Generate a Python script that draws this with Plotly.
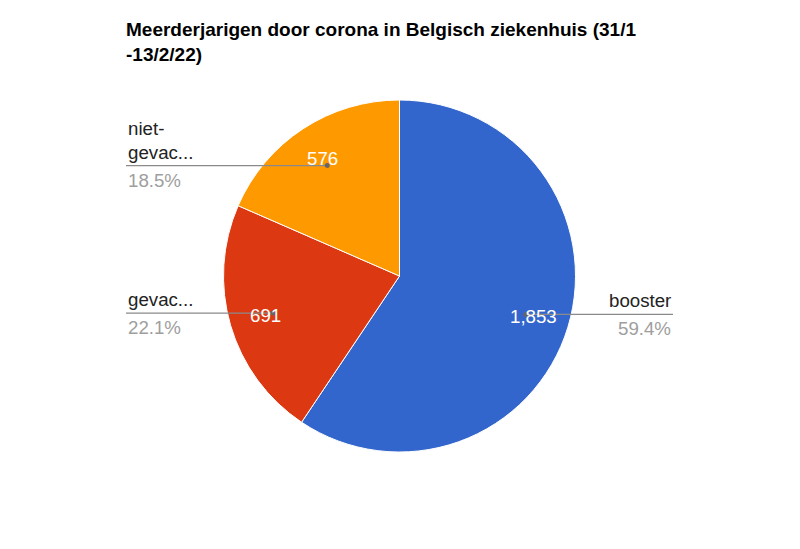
import plotly.graph_objects as go
import numpy as np

# Meerderjarigen in het ziekenhuis per vaccinatiestatus (31/1 - 13/2/22)
labels = ["booster", "gevac…", "niet-gevac…"]
label_text = ["booster", "gevac...", "niet-<br>gevac..."]
values = [1853, 691, 576]
colors = ["#3366cc", "#dc3912", "#ff9900"]

# de pagina heeft 8px marge, dus de figuur is iets kleiner dan het venster
OFF = 8
W, H = 800 - OFF, 549 - OFF
cx, cy, R = 399.5, 276, 176   # middelpunt en straal van de taart (paginapixels)
left_x, right_x = 126, 673    # waar de labels staan


def px(x):
    return (x - OFF) / W


def py(y):
    return (H - (y - OFF)) / H


fig = go.Figure(
    go.Pie(
        labels=labels,
        values=values,
        sort=False,
        direction="clockwise",
        rotation=0,
        marker=dict(colors=colors, line=dict(color="white", width=1)),
        textinfo="none",
        hoverinfo="label+value+percent",
        domain=dict(x=[px(cx - R), px(cx + R)], y=[py(cy + R), py(cy - R)]),
    )
)

# hulplijnen + labels, berekend uit de hoeken van de stukken
vals = np.array(values, dtype=float)
frac = vals / vals.sum()
mid = (np.cumsum(frac) - frac / 2) * 2 * np.pi

shapes = []
annotations = []
for i, a in enumerate(mid):
    dx, dy = np.sin(a), -np.cos(a)
    dot_x, dot_y = cx + 0.75 * R * dx, cy + 0.75 * R * dy
    txt_x, txt_y = cx + 0.795 * R * dx, cy + 0.795 * R * dy
    right = dx > 0
    end_x = right_x if right else left_x
    anchor = "right" if right else "left"

    shapes.append(dict(type="line", xref="paper", yref="paper",
                       x0=px(dot_x), y0=py(dot_y), x1=px(end_x), y1=py(dot_y),
                       line=dict(color="#8a8a8a", width=1.2), layer="above"))
    shapes.append(dict(type="circle", xref="paper", yref="paper",
                       x0=px(dot_x - 2.5), y0=py(dot_y - 2.5), x1=px(dot_x + 2.5), y1=py(dot_y + 2.5),
                       fillcolor="#666666", line=dict(width=0), layer="above"))

    annotations.append(dict(xref="paper", yref="paper", x=px(end_x), y=py(dot_y),
                            xanchor=anchor, yanchor="bottom", yshift=1, align=anchor,
                            text=label_text[i], showarrow=False,
                            font=dict(size=18.7, color="#222222")))
    annotations.append(dict(xref="paper", yref="paper", x=px(end_x), y=py(dot_y),
                            xanchor=anchor, yanchor="top", yshift=-2, align=anchor,
                            text=f"{frac[i] * 100:.1f}%", showarrow=False,
                            font=dict(size=18.7, color="#9e9e9e")))
    annotations.append(dict(xref="paper", yref="paper", x=px(txt_x), y=py(txt_y),
                            xanchor="center", yanchor="middle",
                            text=f"{int(values[i]):,}", showarrow=False,
                            font=dict(size=18.7, color="white")))

fig.update_layout(
    width=W,
    height=H,
    margin=dict(l=0, r=0, t=0, b=0),
    paper_bgcolor="white",
    plot_bgcolor="white",
    showlegend=False,
    font=dict(family="Liberation Sans, Arial, sans-serif"),
    title=dict(
        text="<b>Meerderjarigen door corona in Belgisch ziekenhuis (31/1<br>-13/2/22)</b>",
        x=px(126), xanchor="left", xref="paper",
        y=py(36), yanchor="top", yref="paper",
        font=dict(size=19, color="#000000"),
    ),
    shapes=shapes,
    annotations=annotations,
)

fig.write_html("out.html")
